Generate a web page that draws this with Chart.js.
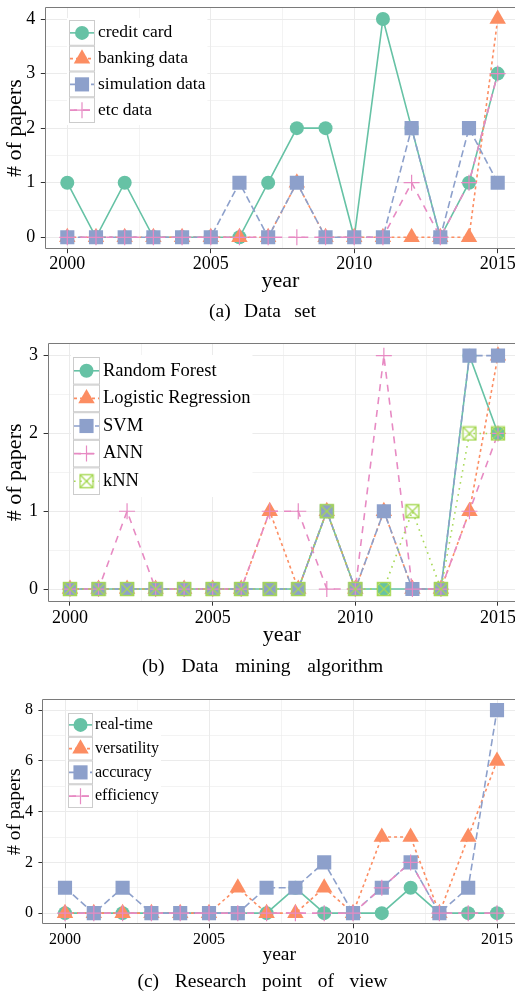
<!DOCTYPE html>
<html>
<head>
<meta charset="utf-8">
<script src="https://cdn.jsdelivr.net/npm/chart.js@4.4.1/dist/chart.umd.min.js"></script>
<style>
  body { margin: 0; width: 515px; height: 993px; overflow: hidden; background: #fff; font-family: "Liberation Serif", serif; }
  .box { position: absolute; left: 0; width: 515px; }
  canvas { display: block; }
  .cap { position: absolute; left: 0; width: 525px; text-align: center; font-size: 19.5px; line-height: 20px; color: #000; }
</style>
</head>
<body>
<div class="box" style="top:0px"><canvas id="chartA" width="515" height="300"></canvas></div>
<div class="box" style="top:300px"><canvas id="chartB" width="515" height="360"></canvas></div>
<div class="box" style="top:670px"><canvas id="chartC" width="515" height="323"></canvas></div>
<div class="cap" style="top:301px; word-spacing:8.5px">(a) Data set</div>
<div class="cap" style="top:656px; word-spacing:12px">(b) Data mining algorithm</div>
<div class="cap" style="top:971px; word-spacing:10.8px">(c) Research point of view</div>
<script>
const years = [2000,2001,2002,2003,2004,2005,2006,2007,2008,2009,2010,2011,2012,2013,2014,2015];
const xTicks = [2000, 2005, 2010, 2015];

// (a) data set
const setNames = ['credit card', 'banking data', 'simulation data', 'etc data'];
const creditCard     = [1,0,1,0,0,0,0,1,2,2,0,4,2,0,1,3];
const bankingData    = [0,0,0,0,0,0,0,0,1,0,0,0,0,0,0,4];
const simulationData = [0,0,0,0,0,0,1,0,1,0,0,0,2,0,2,1];
const etcData        = [0,0,0,0,0,0,0,0,0,0,0,0,1,0,1,3];
const yTicksA = [0,1,2,3,4];

// (b) data mining algorithm
const algoNames = ['Random Forest', 'Logistic Regression', 'SVM', 'ANN', 'kNN'];
const randomForest       = [0,0,0,0,0,0,0,0,0,1,0,0,0,0,3,2];
const logisticRegression = [0,0,0,0,0,0,0,1,0,1,0,1,0,0,1,3];
const svm                = [0,0,0,0,0,0,0,0,0,1,0,1,0,0,3,3];
const ann                = [0,0,1,0,0,0,0,1,1,0,0,3,0,0,1,2];
const knn                = [0,0,0,0,0,0,0,0,0,1,0,0,1,0,2,2];
const yTicksB = [0,1,2,3];

// (c) research point of view
const viewNames = ['real-time', 'versatility', 'accuracy', 'efficiency'];
const realTime    = [0,0,0,0,0,0,0,0,1,0,0,0,1,0,0,0];
const versatility = [0,0,0,0,0,0,1,0,0,1,0,3,3,0,3,6];
const accuracy    = [1,0,1,0,0,0,0,1,1,2,0,1,2,0,1,8];
const efficiency  = [0,0,0,0,0,0,0,0,0,0,0,1,2,0,0,0];
const yTicksC = [0,2,4,6,8];

const FONT = '"Liberation Serif", "Times New Roman", serif';
const colors = ['#66C2A5', '#FC8D62', '#8DA0CB', '#E78AC3', '#A6D854'];
const dashes = [[], [3, 3], [7, 3.5], [7, 6], [1.6, 4.5]];
const LINE_W = 1.6;

// open square with a cross inside, for kNN
function knnMark() {
  const c = document.createElement('canvas');
  c.width = 16; c.height = 16;
  const g = c.getContext('2d');
  g.strokeStyle = colors[4];
  g.lineWidth = 1.4;
  g.strokeRect(1.5, 1.5, 13, 13);
  g.beginPath();
  g.moveTo(1.5, 1.5); g.lineTo(14.5, 14.5);
  g.moveTo(14.5, 1.5); g.lineTo(1.5, 14.5);
  g.stroke();
  return c;
}
const knnImg = knnMark();
const marks = [
  { style: 'circle', r: 7 },
  { style: 'triangle', r: 9.5 },
  { style: 'rect', r: 10 },
  { style: 'cross', r: 8 },
  { style: knnImg, r: 8 }
];

function drawMark(ctx, i, x, y) {
  const r = marks[i].r;
  ctx.save();
  ctx.setLineDash([]);
  ctx.fillStyle = colors[i];
  ctx.strokeStyle = colors[i];
  ctx.beginPath();
  if (i === 0) {
    ctx.arc(x, y, r, 0, Math.PI * 2); ctx.fill();
  } else if (i === 1) {
    for (let k = 0; k < 3; k++) {
      const a = k * Math.PI * 2 / 3;
      const px = x + Math.sin(a) * r, py = y - Math.cos(a) * r;
      if (k === 0) ctx.moveTo(px, py); else ctx.lineTo(px, py);
    }
    ctx.closePath(); ctx.fill();
  } else if (i === 2) {
    const s = r * Math.SQRT1_2;
    ctx.fillRect(x - s, y - s, 2 * s, 2 * s);
  } else if (i === 3) {
    ctx.lineWidth = 1.2;
    ctx.moveTo(x - r, y); ctx.lineTo(x + r, y);
    ctx.moveTo(x, y - r); ctx.lineTo(x, y + r);
    ctx.stroke();
  } else {
    ctx.drawImage(knnImg, x - 8, y - 8);
  }
  ctx.restore();
}

function panelPlugin(cfg) {
  return {
    id: 'panel_' + cfg.id,
    afterDatasetsDraw(chart) {
      // panel border: left, top, bottom (right side is cut off by the page)
      const a = chart.chartArea, ctx = chart.ctx;
      const l = Math.round(a.left) - 0.5, t = Math.round(a.top) - 0.5, b = Math.round(a.bottom) + 0.5;
      ctx.save();
      ctx.strokeStyle = '#7a7a7a';
      ctx.lineWidth = 1;
      ctx.beginPath();
      ctx.moveTo(chart.width, t); ctx.lineTo(l, t); ctx.lineTo(l, b); ctx.lineTo(chart.width, b);
      ctx.stroke();
      ctx.restore();
    },
    afterDraw(chart) {
      const ctx = chart.ctx, L = cfg.legend;
      const n = cfg.names.length;
      ctx.save();
      ctx.font = L.font + 'px ' + FONT;
      const textW = Math.max(...cfg.names.map(s => ctx.measureText(s).width));
      ctx.fillStyle = '#fff';
      ctx.fillRect(L.x - 2, L.y - 2, L.w + L.gap + textW + 4, n * L.h + 4);
      for (let i = 0; i < n; i++) {
        const ky = L.y + i * L.h, cy = ky + L.h / 2, cx = L.x + L.w / 2;
        ctx.strokeStyle = '#cccccc';
        ctx.lineWidth = 1;
        ctx.setLineDash([]);
        ctx.strokeRect(L.x + 0.5, ky + 0.5, L.w - 1, L.h - 1);
        ctx.beginPath();
        ctx.strokeStyle = colors[i];
        ctx.lineWidth = LINE_W;
        ctx.setLineDash(dashes[i]);
        ctx.moveTo(L.x + 1, cy); ctx.lineTo(L.x + L.w - 1, cy);
        ctx.stroke();
        drawMark(ctx, i, cx, cy);
        ctx.fillStyle = '#000';
        ctx.textBaseline = 'middle';
        ctx.textAlign = 'left';
        ctx.fillText(cfg.names[i], L.x + L.w + L.gap, cy);
      }
      ctx.restore();
    }
  };
}

function makePanel(cfg) {
  const canvas = document.getElementById(cfg.id);
  const datasets = [];
  cfg.series.forEach((vals, i) => {
    datasets.push({
      label: cfg.names[i],
      data: vals.map((v, k) => ({ x: years[k], y: v })),
      borderColor: colors[i], borderWidth: LINE_W, borderDash: dashes[i],
      pointRadius: 0, fill: false, tension: 0, order: 100 - i
    });
  });
  cfg.series.forEach((vals, i) => {
    datasets.push({
      label: cfg.names[i],
      data: vals.map((v, k) => ({ x: years[k], y: v })),
      showLine: false,
      pointStyle: marks[i].style, pointRadius: marks[i].r,
      pointBackgroundColor: colors[i], pointBorderColor: colors[i],
      pointBorderWidth: i === 3 ? 1.2 : 0, order: 50 - i
    });
  });

  // page coords -> canvas layout
  const padTop = cfg.areaTop - cfg.top;
  const titleHalf = cfg.titleSize * 0.6;
  const xHeight = cfg.yearMid + titleHalf - cfg.areaBottom;
  const padBottom = (cfg.top + canvas.height) - (cfg.areaBottom + xHeight);
  const perYear = (cfg.x2015 - cfg.x2000) / 15;
  const xMin = 2000 - (cfg.x2000 - cfg.areaLeft) / perYear;
  const xMax = 2015 + (canvas.width - cfg.x2015) / perYear;

  const yMajor = cfg.yTicks;
  const step = yMajor[1] - yMajor[0];
  const yGrid = [];
  yMajor.forEach((v, i) => { yGrid.push(v); if (i < yMajor.length - 1) yGrid.push(v + step / 2); });
  const xGrid = [];
  xTicks.forEach((v, i) => { xGrid.push(v); if (i < xTicks.length - 1) xGrid.push(v + 2.5); });

  const gridStyle = majors => ({
    color: '#ebebeb',
    lineWidth: c => majors.includes(c.tick.value) ? 1 : 0.6,
    tickColor: c => majors.includes(c.tick.value) ? '#333333' : 'rgba(0,0,0,0)',
    tickLength: 5
  });

  new Chart(canvas, {
    type: 'line',
    data: { datasets },
    options: {
      responsive: false,
      animation: false,
      layout: { autoPadding: false, padding: { top: padTop, right: 0, left: 0, bottom: padBottom } },
      plugins: { legend: { display: false }, tooltip: { enabled: false } },
      scales: {
        x: {
          type: 'linear', min: xMin, max: xMax,
          afterBuildTicks: s => { s.ticks = xGrid.map(v => ({ value: v })); },
          afterFit: s => { s.height = xHeight; s.paddingLeft = 0; s.paddingRight = 0; },
          ticks: {
            autoSkip: false, maxRotation: 0, padding: cfg.xPad, color: '#000',
            font: { family: FONT, size: cfg.tickSize },
            callback: v => xTicks.includes(v) ? String(v) : ''
          },
          grid: gridStyle(xTicks),
          border: { display: false },
          title: { display: true, text: 'year', color: '#000', padding: 0, font: { family: FONT, size: cfg.titleSize } }
        },
        y: {
          min: cfg.yMin, max: cfg.yMax,
          afterBuildTicks: s => { s.ticks = yGrid.map(v => ({ value: v })); },
          afterFit: s => { s.width = cfg.areaLeft; s.paddingTop = 0; s.paddingBottom = 0; },
          ticks: {
            autoSkip: false, padding: 5.5, color: '#000',
            font: { family: FONT, size: cfg.tickSize },
            callback: v => yMajor.includes(v) ? String(v) : ''
          },
          grid: gridStyle(yMajor),
          border: { display: false },
          title: { display: true, text: '# of papers', color: '#000', padding: { top: cfg.yTitlePad, bottom: 0 }, font: { family: FONT, size: cfg.titleSize } }
        }
      }
    },
    plugins: [panelPlugin(cfg)]
  });
}

makePanel({
  id: 'chartA', top: 0, names: setNames,
  series: [creditCard, bankingData, simulationData, etcData],
  yTicks: yTicksA, yMin: -0.2, yMax: 4.2,
  areaLeft: 45.8, x2000: 67.3, x2015: 497.7, areaTop: 8.1, areaBottom: 248.2, yearMid: 281,
  tickSize: 18, titleSize: 22, xPad: 0, yTitlePad: 2,
  legend: { x: 69, y: 20, w: 26, h: 25.75, font: 17.5, gap: 3 }
});

makePanel({
  id: 'chartB', top: 300, names: algoNames,
  series: [randomForest, logisticRegression, svm, ann, knn],
  yTicks: yTicksB, yMin: -0.15, yMax: 3.15,
  areaLeft: 48.6, x2000: 70, x2015: 498, areaTop: 344, areaBottom: 600.7, yearMid: 635,
  tickSize: 18, titleSize: 22, xPad: 1.5, yTitlePad: 2,
  legend: { x: 73, y: 57, w: 27, h: 27.6, font: 18.5, gap: 3 }
});

makePanel({
  id: 'chartC', top: 670, names: viewNames,
  series: [realTime, versatility, accuracy, efficiency],
  yTicks: yTicksC, yMin: -0.4, yMax: 8.4,
  areaLeft: 43.4, x2000: 65, x2015: 497, areaTop: 700, areaBottom: 923.3, yearMid: 955,
  tickSize: 16, titleSize: 19.5, xPad: 1.4, yTitlePad: 3,
  legend: { x: 68, y: 43, w: 25, h: 23.75, font: 16, gap: 2 }
});
</script>
</body>
</html>
